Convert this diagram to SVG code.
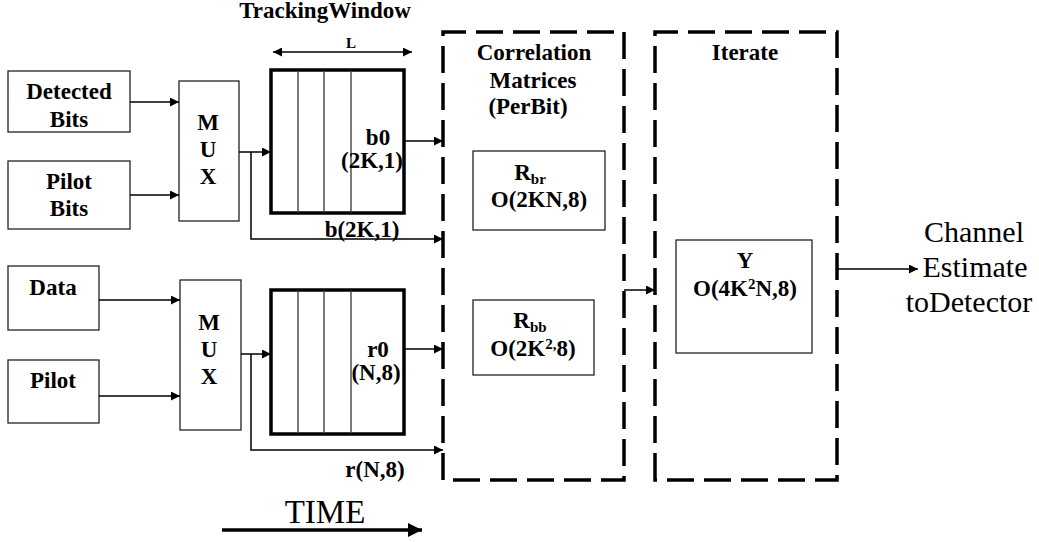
<svg xmlns="http://www.w3.org/2000/svg" width="1039" height="542" viewBox="0 0 1039 542" font-family="Liberation Serif, serif">
<defs>
<marker id="ah" viewBox="0 0 10 10" refX="10" refY="5" markerWidth="12" markerHeight="9" markerUnits="userSpaceOnUse" orient="auto-start-reverse">
<path d="M0,0 L10,5 L0,10 z" fill="#000"/>
</marker>
<marker id="ahb" viewBox="0 0 10 10" refX="10" refY="5" markerWidth="20" markerHeight="14" markerUnits="userSpaceOnUse" orient="auto">
<path d="M0,0 L10,5 L0,10 z" fill="#000"/>
</marker>
<style>
.box{fill:#fff;stroke:#222;stroke-width:1.3}
.win{fill:#fff;stroke:#000;stroke-width:3.5}
.cell{stroke:#333;stroke-width:1.3}
.dash{fill:none;stroke:#000;stroke-width:3.5;stroke-dasharray:27 10}
.t{font-weight:bold;font-size:23px;fill:#000;text-anchor:middle}
.sub{font-size:15px}
.r{font-size:30px;fill:#000;text-anchor:middle}
.c{fill:none;stroke:#000;stroke-width:1.5}
</style>
</defs>

<g id="detected-bits"><rect class="box" x="8" y="71" width="122" height="61"/><text class="t" x="69" y="99">Detected</text><text class="t" x="69" y="127">Bits</text></g>
<g id="pilot-bits"><rect class="box" x="8" y="161" width="122" height="68"/><text class="t" x="69" y="189">Pilot</text><text class="t" x="69" y="216">Bits</text></g>
<g id="mux1"><rect class="box" x="179" y="81" width="60" height="140"/><text class="t" x="208" y="130">M</text><text class="t" x="208" y="157">U</text><text class="t" x="208" y="184">X</text></g>
<g id="window1"><rect class="win" x="271" y="70" width="133" height="143"/><line class="cell" x1="298" y1="70" x2="298" y2="213"/><line class="cell" x1="324" y1="70" x2="324" y2="213"/><line class="cell" x1="351" y1="70" x2="351" y2="213"/><text class="t" x="378" y="145">b0</text><text class="t" x="372" y="168">(2K,1)</text></g>
<g id="tracking-label"><text class="t" x="325" y="18">TrackingWindow</text><text class="t" x="351" y="48" style="font-size:15px">L</text></g>

<g id="data"><rect class="box" x="8" y="266" width="91" height="64"/><text class="t" x="53" y="295">Data</text></g>
<g id="pilot"><rect class="box" x="8" y="360" width="91" height="63"/><text class="t" x="53" y="388">Pilot</text></g>
<g id="mux2"><rect class="box" x="180" y="280" width="61" height="150"/><text class="t" x="209" y="330">M</text><text class="t" x="209" y="357">U</text><text class="t" x="209" y="384">X</text></g>
<g id="window2"><rect class="win" x="271" y="290" width="133" height="144"/><line class="cell" x1="298" y1="290" x2="298" y2="434"/><line class="cell" x1="324" y1="290" x2="324" y2="434"/><line class="cell" x1="351" y1="290" x2="351" y2="434"/><text class="t" x="378" y="357">r0</text><text class="t" x="376" y="380">(N,8)</text></g>

<g id="correlation"><path class="dash" d="M443,480 L443,32 L624,32 L624,480 Z"/><text class="t" x="534" y="60">Correlation</text><text class="t" x="533" y="88">Matrices</text><text class="t" x="528" y="114">(PerBit)</text></g>
<g id="rbr"><rect class="box" x="473" y="151" width="132" height="79"/><text class="t" x="530" y="180">R<tspan class="sub" dy="4">br</tspan></text><text class="t" x="539" y="207">O(2KN,8)</text></g>
<g id="rbb"><rect class="box" x="473" y="300" width="121" height="75"/><text class="t" x="530" y="328">R<tspan class="sub" dy="4">bb</tspan></text><text class="t" x="533" y="356">O(2K<tspan class="sub" dy="-7">2,</tspan><tspan dy="7">8)</tspan></text></g>

<g id="iterate"><path class="dash" d="M655,480 L655,32 L837,32 L837,480 Z"/><text class="t" x="745" y="60">Iterate</text></g>
<g id="y"><rect class="box" x="676" y="240" width="136" height="113"/><text class="t" x="745" y="268">Y</text><text class="t" x="745" y="296">O(4K<tspan class="sub" dy="-7">2</tspan><tspan dy="7">N,8)</tspan></text></g>

<g id="output-label"><text class="r" x="974" y="242">Channel</text><text class="r" x="975" y="277">Estimate</text><text class="r" x="969" y="312">toDetector</text></g>
<g id="time"><text class="r" x="325" y="523" style="font-size:33px">TIME</text></g>

<g id="connectors">
<line class="c" x1="130" y1="102" x2="179" y2="102" marker-end="url(#ah)"/>
<line class="c" x1="130" y1="195" x2="179" y2="195" marker-end="url(#ah)"/>
<line class="c" x1="239" y1="152" x2="271" y2="152" marker-end="url(#ah)"/>
<polyline class="c" points="251,152 251,239 443,239" marker-end="url(#ah)"/>
<line class="c" x1="404" y1="141" x2="443" y2="141" marker-end="url(#ah)"/>
<line class="c" x1="273" y1="52" x2="412" y2="52" marker-start="url(#ah)" marker-end="url(#ah)"/>
<line class="c" x1="99" y1="300" x2="180" y2="300" marker-end="url(#ah)"/>
<line class="c" x1="99" y1="396" x2="180" y2="396" marker-end="url(#ah)"/>
<line class="c" x1="241" y1="354" x2="271" y2="354" marker-end="url(#ah)"/>
<polyline class="c" points="251,354 251,450 443,450" marker-end="url(#ah)"/>
<line class="c" x1="404" y1="349" x2="443" y2="349" marker-end="url(#ah)"/>
<line class="c" x1="624" y1="290" x2="655" y2="290" marker-end="url(#ah)"/>
<line class="c" x1="837" y1="269" x2="918" y2="269" marker-end="url(#ah)"/>
<line x1="222" y1="530" x2="422" y2="530" stroke="#000" stroke-width="3.5" marker-end="url(#ahb)"/>
</g>
<g id="edge-labels"><text class="t" x="362" y="237">b(2K,1)</text><text class="t" x="375" y="477">r(N,8)</text></g>
</svg>
